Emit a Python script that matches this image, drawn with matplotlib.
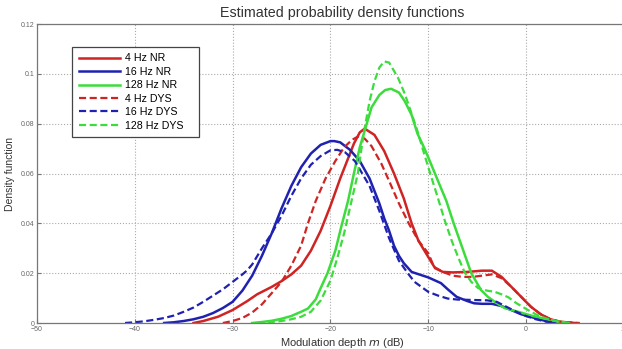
import matplotlib
matplotlib.use("Agg")
import matplotlib.pyplot as plt
import numpy as np

plt.rcParams['font.family'] = ['Liberation Sans', 'DejaVu Sans']

# modulation depth (dB) / density values
x_4nr = [-34, -33, -31.5, -30, -28.5, -27.5, -26, -25, -24, -23, -22, -21, -20, -19, -18,
         -17.6, -17, -16.5, -15.5, -14.5, -13.5, -12.5, -11.7, -11, -10, -9.3, -8.5, -7.5,
         -6, -4.5, -3.5, -2.5, -1.5, -0.5, 0.5, 1.5, 2.5, 3.5, 5]
y_4nr = [0, 0.0008, 0.0025, 0.0052, 0.0088, 0.0115, 0.0145, 0.0168, 0.0195, 0.023, 0.029,
         0.037, 0.047, 0.058, 0.068, 0.072, 0.0765, 0.078, 0.0755, 0.069, 0.060, 0.050,
         0.040, 0.033, 0.0265, 0.022, 0.0205, 0.0203, 0.0205, 0.021, 0.021, 0.0185, 0.0145,
         0.0105, 0.0065, 0.0035, 0.0015, 0.0005, 0]

x_16nr = [-37, -36, -35, -34, -33, -32, -31, -30, -29, -28, -27, -26, -25, -24, -23, -22,
          -21, -20, -19.6, -19, -18, -17, -16, -15, -14.5, -14, -13.5, -13, -12.5, -11.7,
          -10.7, -10, -8.7, -8, -7.1, -6, -5.3, -4.5, -3.5, -2.5, -1.5, -0.5, 0.9, 2, 3]
y_16nr = [0, 0.0003, 0.0008, 0.0015, 0.0025, 0.004, 0.006, 0.0085, 0.013, 0.019, 0.027,
          0.036, 0.046, 0.055, 0.0625, 0.068, 0.0715, 0.073, 0.073, 0.0725, 0.0695, 0.065,
          0.058, 0.048, 0.042, 0.037, 0.031, 0.027, 0.024, 0.0205, 0.0192, 0.0183, 0.016,
          0.0135, 0.0105, 0.0088, 0.0079, 0.0077, 0.0077, 0.0068, 0.0052, 0.0035, 0.002,
          0.0008, 0]

x_128nr = [-28, -27, -26, -25, -24, -23, -22.3, -21.5, -21, -20.3, -19.5, -18.9, -18.2,
           -17.6, -17, -16.4, -15.8, -15, -14.4, -13.8, -13, -12.4, -11.7, -11.1, -10.5,
           -10, -9, -8.15, -7.4, -6.5, -5.6, -4.6, -3.9, -3.2, -2.2, -0.8, 0.5, 1.6, 2.5,
           3.5, 4.5]
y_128nr = [0, 0.0004, 0.0009, 0.0017, 0.0028, 0.0045, 0.0058, 0.0095, 0.014, 0.02, 0.029,
           0.0385, 0.049, 0.060, 0.0705, 0.0785, 0.0865, 0.0915, 0.0935, 0.094, 0.0925,
           0.089, 0.0835, 0.076, 0.071, 0.0665, 0.057, 0.049, 0.040, 0.030, 0.020, 0.0132,
           0.0105, 0.0085, 0.006, 0.0045, 0.003, 0.002, 0.0012, 0.0005, 0]

x_4dys = [-31, -30, -29, -28, -27, -26, -25, -24, -23, -22.3, -21.5, -20.5, -19.5, -18.6,
          -17.8, -17.2, -16.5, -15.8, -14.8, -14, -13, -12, -11, -10, -9.4, -8.5, -7.5,
          -6.5, -5.5, -4.5, -3.5, -2.5, -1.5, -0.5, 0.5, 1.5, 2.5, 3.5, 5.5]
y_4dys = [0, 0.0008, 0.002, 0.0042, 0.0075, 0.012, 0.0165, 0.023, 0.031, 0.04, 0.049,
          0.058, 0.065, 0.0705, 0.0735, 0.0748, 0.074, 0.071, 0.064, 0.057, 0.048, 0.040,
          0.033, 0.028, 0.0225, 0.0205, 0.019, 0.0185, 0.0185, 0.019, 0.0195, 0.018,
          0.0145, 0.0105, 0.0065, 0.0035, 0.0015, 0.0005, 0]

x_16dys = [-41, -40, -39, -38, -37, -36, -35, -34, -33, -32, -31, -30, -29, -28.5, -28,
           -27, -26, -25, -24, -23, -22, -21, -20, -19.3, -18.5, -17.5, -16.9, -16, -15,
           -14, -13, -12, -11.4, -10.7, -10, -9, -8, -7, -6, -5, -4, -3, -2, -1, 0, 1, 2, 3]
y_16dys = [0, 0.0003, 0.0007, 0.0013, 0.002, 0.003, 0.0045, 0.0062, 0.0085, 0.011, 0.0135,
           0.0165, 0.0195, 0.0212, 0.0235, 0.030, 0.036, 0.043, 0.051, 0.058, 0.0635,
           0.067, 0.0693, 0.0695, 0.0685, 0.065, 0.061, 0.055, 0.045, 0.034, 0.025, 0.0195,
           0.0165, 0.0145, 0.0125, 0.011, 0.0098, 0.0094, 0.0093, 0.0092, 0.0091, 0.0085,
           0.0065, 0.0045, 0.0028, 0.0015, 0.0006, 0]

x_128dys = [-27.5, -26, -25, -24, -23, -22, -21, -20, -19.3, -18.6, -17.9, -17.2, -16.6,
            -16, -15.5, -15, -14.5, -14, -13.1, -12.4, -11.7, -11.1, -10.5, -9.8, -9,
            -8.3, -7.6, -6.9, -6.3, -5.6, -4.9, -4, -3.2, -2.5, -1.8, -1, 0.2, 1, 1.9, 3, 4.5]
y_128dys = [0, 0.0004, 0.0008, 0.0015, 0.0025, 0.0045, 0.009, 0.017, 0.026, 0.036, 0.048,
            0.060, 0.076, 0.089, 0.097, 0.1025, 0.105, 0.1045, 0.0985, 0.092, 0.084, 0.077,
            0.069, 0.060, 0.050, 0.041, 0.033, 0.026, 0.0205, 0.0165, 0.014, 0.013, 0.0125,
            0.0115, 0.0103, 0.008, 0.0052, 0.0035, 0.002, 0.0008, 0]

red = '#cf2424'
blue = '#1f22b0'
green = '#3ddc3d'

fig = plt.figure(figsize=(6.22, 3.49), dpi=100)
ax = fig.add_axes([37 / 622, 1 - 323 / 349, 1 - 37 / 622 + 0.003, (323 - 24) / 349])

ax.plot(x_4nr, y_4nr, color=red, lw=1.8, label='4 Hz NR')
ax.plot(x_16nr, y_16nr, color=blue, lw=1.8, label='16 Hz NR')
ax.plot(x_128nr, y_128nr, color=green, lw=1.8, label='128 Hz NR')
ax.plot(x_4dys, y_4dys, color=red, lw=1.6, ls=(0, (3.2, 1.6)), label='4 Hz DYS')
ax.plot(x_16dys, y_16dys, color=blue, lw=1.6, ls=(0, (3.2, 1.6)), label='16 Hz DYS')
ax.plot(x_128dys, y_128dys, color=green, lw=1.6, ls=(0, (3.2, 1.6)), label='128 Hz DYS')

ax.set_xlim(-50, 10)
ax.set_ylim(0, 0.12)
ax.set_xticks(np.arange(-50, 11, 10))
ax.set_yticks([0, 0.02, 0.04, 0.06, 0.08, 0.1, 0.12])
ax.set_yticklabels(['0', '0.02', '0.04', '0.06', '0.08', '0.1', '0.12'])
ax.tick_params(direction='in', length=3, labelsize=5, colors='#777777', labelcolor='#666666', pad=2)
ax.grid(True, ls=':', color='#aaaaaa', lw=0.8)
for s in ax.spines.values():
    s.set_color('#777777')
    s.set_linewidth(0.9)

ax.set_title('Estimated probability density functions', fontsize=10.3, color='#333333',
             pad=5, x=0.52)
ax.set_xlabel('Modulation depth $m$ (dB)', fontsize=8, color='#333333', labelpad=2)
ax.xaxis.set_label_coords(0.52, -0.045)
ax.set_ylabel('Density function', fontsize=7.5, color='#333333', labelpad=4)

# legend box spans roughly x 72..198 px, top at 47 px
leg_x0 = (72 - 37) / 585
leg_w = (198 - 72) / 585
leg_top = 1 - (47 - 24) / 299
leg = ax.legend(loc='upper left', bbox_to_anchor=(leg_x0, leg_top - 0.3, leg_w, 0.3),
                mode='expand', borderaxespad=0, fontsize=7.7, handlelength=3.9,
                handletextpad=0.4, labelspacing=0.32, borderpad=0.6, fancybox=False,
                framealpha=1, edgecolor='#444444')
leg.get_frame().set_linewidth(0.9)

fig.savefig('out.png', dpi=100)
